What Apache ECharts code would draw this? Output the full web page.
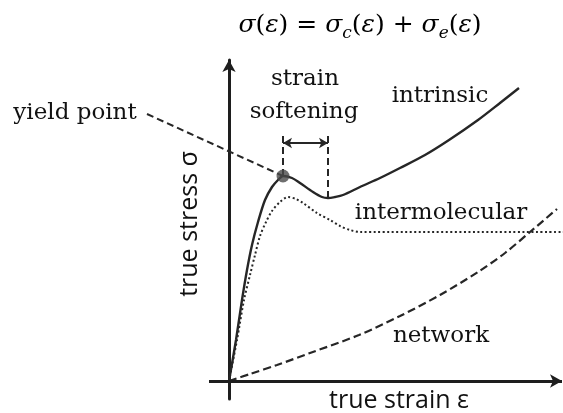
<!DOCTYPE html>
<html>
<head>
<meta charset="utf-8">
<script src="https://cdn.jsdelivr.net/npm/echarts@6/dist/echarts.min.js"></script>
<style>
html,body{margin:0;padding:0;background:#fff;}
#c{width:563px;height:413px;}
</style>
</head>
<body>
<div id="c"></div>
<script>
// Schematic curves (arbitrary units: strain, stress)
const intrinsic = [[0,0],[7,41],[13,81],[18,111],[23,136],[29,159],[36,181],[43,194],[49,201],[54,205],[63,203],[71,198],[84,189],[93,184],[99,183],[106,184],[114,186],[131,194],[151,203],[171,213],[196,226],[220,241],[249,261],[271,278],[290,293]];
const intermolecular = [[0,0],[8,41],[15,81],[21,106],[26,126],[31,145],[37,159],[43,170],[51,179],[59,184],[67,182],[74,178],[88,168],[101,161],[111,155],[121,151],[131,149],[334,149]];
const network = [[0,0],[21,7],[48,16],[81,28],[130,46],[171,65],[211,86],[249,109],[276,128],[301,149],[328,172]];
const yieldLeader = [[-82,267],[54,205]];
const yieldPoint = [[54,205]];
const xAxisStart = -20, xAxisEnd = 333;
const softeningStart = 54, softeningEnd = 99, softeningTop = 249, softeningArrowY = 238;
const softeningStartY = 205, softeningEndY = 183;

const ink = '#262626';
const serif = 'DejaVu Serif';
const lbl = (x,y,t)=>({type:'text',x:x,y:y,style:{text:t,font:'23px "DejaVu Serif"',fill:'#111',align:'center',verticalAlign:'middle'}});

const chart = echarts.init(document.getElementById('c'), null, {renderer:'canvas'});
chart.setOption({
  animation:false,
  backgroundColor:'#fff',
  grid:{left:140,right:1,top:60,bottom:14,outerBoundsMode:'none',containLabel:false},
  xAxis:{type:'value',min:-89,max:333,
    axisLine:{show:false},
    axisTick:{show:false},axisLabel:{show:false},splitLine:{show:false}
  },
  yAxis:{type:'value',min:-18,max:321,
    axisLine:{show:true,onZero:true,symbol:['none','arrow'],symbolSize:[10,12],lineStyle:{color:'#1e1e1e',width:3}},
    axisTick:{show:false},axisLabel:{show:false},splitLine:{show:false}
  },
  series:[
    {type:'line',data:network,smooth:0.3,symbol:'none',clip:false,
      lineStyle:{color:ink,width:2.2,type:[8,4]},
      markLine:{silent:true,animation:false,label:{show:false},symbol:['none','arrow'],symbolSize:[10,12],
        lineStyle:{color:'#1e1e1e',width:3,type:'solid'},
        data:[[{coord:[xAxisStart,0]},{coord:[xAxisEnd,0]}]]}},
    {type:'line',data:intermolecular,smooth:0.3,symbol:'none',clip:false,
      lineStyle:{color:ink,width:2,type:[2,2.5]}},
    {type:'line',data:yieldLeader,symbol:'none',clip:false,
      lineStyle:{color:ink,width:2,type:[7,4]}},
    {type:'line',data:intrinsic,smooth:0.3,symbol:'none',clip:false,
      lineStyle:{color:ink,width:2.4},
      markLine:{silent:true,animation:false,label:{show:false},
        data:[
          [{coord:[softeningStart,softeningStartY],symbol:'none',lineStyle:{type:[7,4],width:2,color:ink}},{coord:[softeningStart,softeningTop],symbol:'none'}],
          [{coord:[softeningEnd,softeningEndY],symbol:'none',lineStyle:{type:[7,4],width:2,color:ink}},{coord:[softeningEnd,softeningTop],symbol:'none'}],
          [{coord:[softeningStart,softeningArrowY],symbol:'arrow',lineStyle:{type:'solid',width:2,color:ink}},{coord:[softeningEnd,softeningArrowY],symbol:'arrow'}]
        ],
        symbolSize:[8,9]
      }},
    {type:'scatter',data:yieldPoint,symbolSize:13,itemStyle:{color:'#4a4a4a'},clip:false,z:5}
  ],
  graphic:[
    {type:'text',x:360,y:25,style:{
      text:'{i|σ}{n|(}{i|ε}{n|) = }{i|σ}{s|c}{n|(}{i|ε}{n|) + }{i|σ}{s|e}{n|(}{i|ε}{n|)}',
      align:'center',verticalAlign:'middle',
      rich:{
        i:{fontFamily:serif,fontStyle:'italic',fontSize:25,lineHeight:34,verticalAlign:'middle',fill:'#000'},
        n:{fontFamily:serif,fontSize:25,lineHeight:34,verticalAlign:'middle',fill:'#000'},
        s:{fontFamily:serif,fontStyle:'italic',fontSize:17,lineHeight:17,verticalAlign:'bottom',fill:'#000'}
      }}},
    lbl(75,113,'yield point'),
    lbl(305,79,'strain'),
    lbl(304,112,'softening'),
    lbl(440,96,'intrinsic'),
    lbl(441,213,'intermolecular'),
    lbl(441,336,'network'),
    {type:'text',x:399,y:401,style:{text:'true strain ε',font:'25px "Open Sans"',fill:'#111',align:'center',verticalAlign:'middle'}},
    {type:'text',x:190,y:224,rotation:Math.PI/2,style:{text:'true stress σ',font:'25px "Open Sans"',fill:'#111',align:'center',verticalAlign:'middle'}}
  ]
});
</script>
</body>
</html>
